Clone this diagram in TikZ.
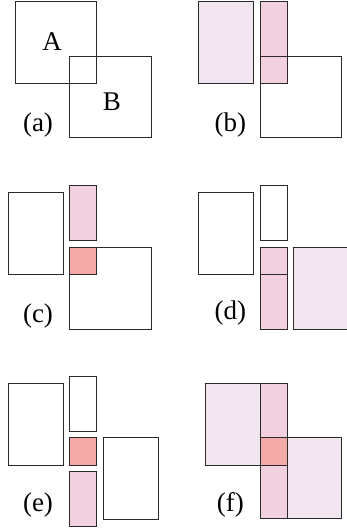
\documentclass[tikz,border=0pt]{standalone}
\usepackage{fontspec}
\setmainfont{Liberation Serif}
\usepackage{tikz}
\usetikzlibrary{positioning}

\definecolor{lpink}{HTML}{F1E6F0}
\definecolor{mpink}{HTML}{F2D0DF}
\definecolor{rpink}{HTML}{F4A9A9}
\definecolor{edge}{HTML}{2A2A2A}

\tikzset{
  box/.style={draw=edge, line width=1pt},
  lite/.style={box, fill=lpink},
  mid/.style={box, fill=mpink},
  core/.style={box, fill=rpink},
  tag/.style={font=\fontsize{27}{30}\selectfont, inner sep=0pt}
}

\begin{document}
\begin{tikzpicture}[x=1pt, y=-1pt]
    \useasboundingbox (0,0) rectangle (347,529);

    % (a) the two sets
    \draw[box] (15,1.7) rectangle (96.7,83.3);
    \draw[box] (69.3,56.7) rectangle (151,137.7);
    \node[tag] (setA) at (52,42) {A};
    \node[tag] (setB) at (112,102) {B};
    \node[tag] (capa) at (38,125) {(a)};

    % (b) A cut in two
    \draw[lite] (198.7,1.7) rectangle (253.3,83.3);
    \draw[mid] (260.3,1.7) rectangle (287.3,83.3);
    \draw[box] (260.3,56.7) rectangle (341.7,137.7);
    \node[tag] (capb) at (230.3,125) {(b)};

    % (c) strip split off
    \draw[box] (8.3,192.7) rectangle (63,274.3);
    \draw[mid] (69.3,186) rectangle (96.7,240.3);
    \draw[box] (69.3,247) rectangle (151,329);
    \draw[core] (69.3,247) rectangle (96.7,274.3);
    \node[tag] (capc) at (38,316) {(c)};

    % (d) B cut in two
    \draw[box] (198.7,192.7) rectangle (253.3,274.3);
    \draw[box] (260.3,186) rectangle (287.3,240.3);
    \draw[mid] (260.3,247) rectangle (287.3,329);
    \draw[box] (260.3,274.3) -- (287.3,274.3);
    \draw[lite] (293.7,247) rectangle (348.1,329);
    \node[tag] (capd) at (230.3,312.7) {(d)};

    % (e) all pieces apart
    \draw[box] (8.3,383) rectangle (63,465);
    \draw[box] (69.3,376.3) rectangle (96.7,431);
    \draw[core] (69.3,437.7) rectangle (96.7,465);
    \draw[mid] (69.3,471.7) rectangle (96.7,526.3);
    \draw[box] (103.3,437.7) rectangle (158,519.3);
    \node[tag] (cape) at (38,505) {(e)};

    % (f) pieces put back
    \draw[lite] (205.7,383) rectangle (260.3,465);
    \draw[mid] (260.3,383) rectangle (287.3,437.7);
    \draw[mid] (260.3,465) rectangle (287.3,518.7);
    \draw[lite] (287.3,437.7) rectangle (341.7,518.7);
    \draw[core] (260.3,437.7) rectangle (287.3,465);
    \node[tag] (capf) at (230.3,505) {(f)};
\end{tikzpicture}
\end{document}
